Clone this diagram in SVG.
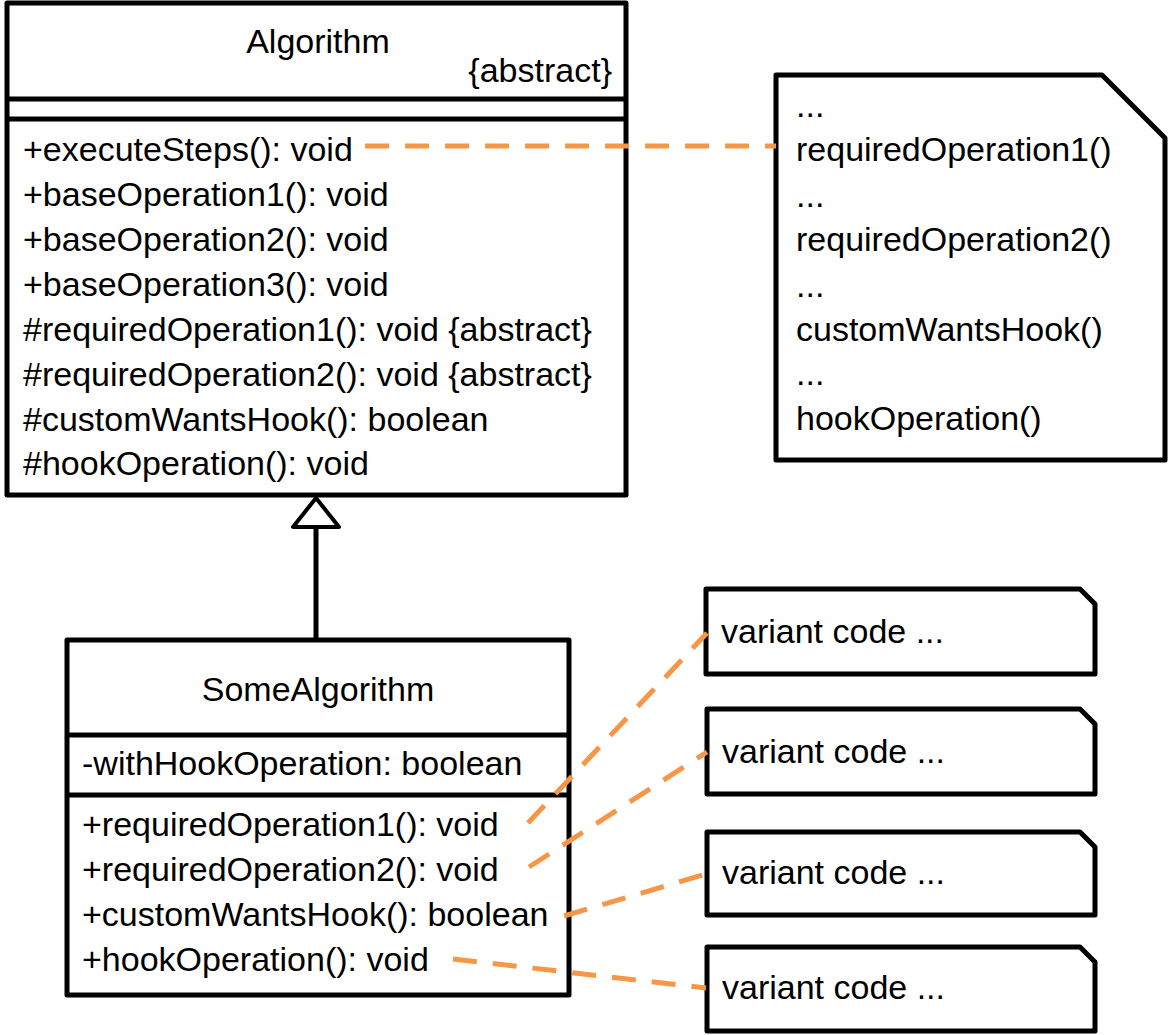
<svg xmlns="http://www.w3.org/2000/svg" width="1169" height="1035" viewBox="0 0 1169 1035">
  <style>
    .box { fill: #ffffff; stroke: #000000; stroke-width: 5; stroke-linejoin: round; }
    .sep { stroke: #000000; stroke-width: 5; }
    .t { font-family: "Liberation Sans", Arial, sans-serif; font-size: 34px; fill: #000000; }
    .mid { text-anchor: middle; }
    .end { text-anchor: end; }
    .dash { fill: none; stroke: #F79646; stroke-width: 5; stroke-dasharray: 24 16; }
    .gen { fill: none; stroke: #000000; stroke-width: 5; }
    .tri { fill: #ffffff; stroke: #000000; stroke-width: 4; stroke-linejoin: round; }
  </style>

  <g id="Algorithm">
    <rect class="box" x="7" y="3" width="619" height="492"/>
    <line class="sep" x1="7" y1="99" x2="626" y2="99"/>
    <line class="sep" x1="7" y1="119" x2="626" y2="119"/>
    <text class="t mid" x="318" y="53">Algorithm</text>
    <text class="t end" x="612" y="82">{abstract}</text>
    <text class="t" x="23" y="161">+executeSteps(): void</text>
    <text class="t" x="23" y="206">+baseOperation1(): void</text>
    <text class="t" x="23" y="251">+baseOperation2(): void</text>
    <text class="t" x="23" y="296">+baseOperation3(): void</text>
    <text class="t" x="23" y="341">#requiredOperation1(): void {abstract}</text>
    <text class="t" x="23" y="386">#requiredOperation2(): void {abstract}</text>
    <text class="t" x="23" y="431">#customWantsHook(): boolean</text>
    <text class="t" x="23" y="475">#hookOperation(): void</text>
  </g>

  <g id="executeStepsNote">
    <path class="box" d="M776,75 L1102,75 L1165,138 L1165,460 L776,460 Z"/>
    <text class="t" x="796" y="117">...</text>
    <text class="t" x="796" y="161">requiredOperation1()</text>
    <text class="t" x="796" y="207">...</text>
    <text class="t" x="796" y="251">requiredOperation2()</text>
    <text class="t" x="796" y="297">...</text>
    <text class="t" x="796" y="341">customWantsHook()</text>
    <text class="t" x="796" y="385">...</text>
    <text class="t" x="796" y="430">hookOperation()</text>
  </g>

  <g id="SomeAlgorithm">
    <rect class="box" x="67" y="640" width="502" height="355"/>
    <line class="sep" x1="67" y1="735" x2="569" y2="735"/>
    <line class="sep" x1="67" y1="795" x2="569" y2="795"/>
    <text class="t mid" x="318" y="701">SomeAlgorithm</text>
    <text class="t" x="82" y="775">-withHookOperation: boolean</text>
    <text class="t" x="82" y="836">+requiredOperation1(): void</text>
    <text class="t" x="82" y="881">+requiredOperation2(): void</text>
    <text class="t" x="82" y="926">+customWantsHook(): boolean</text>
    <text class="t" x="82" y="971">+hookOperation(): void</text>
  </g>

  <g id="variantNote1">
    <path class="box" d="M706,589 L1080,589 L1095,604 L1095,674 L706,674 Z"/>
    <text class="t" x="721" y="643">variant code ...</text>
  </g>
  <g id="variantNote2">
    <path class="box" d="M707,709 L1080,709 L1095,724 L1095,794 L707,794 Z"/>
    <text class="t" x="722" y="763">variant code ...</text>
  </g>
  <g id="variantNote3">
    <path class="box" d="M707,832 L1080,832 L1095,847 L1095,915 L707,915 Z"/>
    <text class="t" x="722" y="884">variant code ...</text>
  </g>
  <g id="variantNote4">
    <path class="box" d="M707,947 L1080,947 L1095,962 L1095,1031 L707,1031 Z"/>
    <text class="t" x="722" y="999">variant code ...</text>
  </g>

  <g id="connectors">
    <line class="dash" x1="365" y1="146" x2="776" y2="146"/>
    <line class="dash" x1="528" y1="823" x2="707" y2="633"/>
    <line class="dash" x1="529" y1="867" x2="707" y2="752"/>
    <line class="dash" x1="564" y1="916" x2="706" y2="874"/>
    <line class="dash" x1="453" y1="959" x2="706" y2="988"/>
    <line class="gen" x1="316" y1="527" x2="316" y2="640"/>
    <polygon class="tri" points="316,498 293,527 339,527"/>
  </g>
</svg>
